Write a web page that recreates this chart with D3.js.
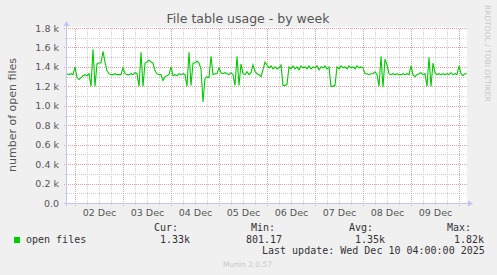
<!DOCTYPE html>
<html>
<head>
<meta charset="utf-8">
<script src="https://cdn.jsdelivr.net/npm/d3@7"></script>
<style>
  body { margin: 0; background: #f0f0f0; }
  svg { display: block; }
</style>
</head>
<body>
<div id="chart"></div>
<script>
// hourly readings of open files, starting Dec 1 20:00
var startTime = "2025-12-01T20:00:00Z";
var openFiles = [
  1330, 1320, 1330, 1320, 1400, 1290, 1270, 1290, 1310, 1320,
  1310, 1330, 1200, 1580, 1200, 1430, 1440, 1440, 1560, 1450,
  1360, 1330, 1320, 1320, 1330, 1320, 1320, 1320, 1390, 1330,
  1320, 1320, 1330, 1320, 1340, 1330, 1200, 1550, 1200, 1440,
  1450, 1470, 1450, 1440, 1360, 1330, 1320, 1320, 1260, 1300,
  1310, 1320, 1400, 1310, 1320, 1310, 1330, 1320, 1330, 1320,
  1200, 1550, 1210, 1440, 1440, 1460, 1440, 1380, 1040, 1280,
  1300, 1290, 1510, 1320, 1330, 1330, 1390, 1340, 1330, 1340,
  1330, 1320, 1340, 1320, 1210, 1510, 1210, 1430, 1330, 1320,
  1350, 1320, 1340, 1420, 1350, 1330, 1320, 1300, 1370, 1450,
  1420, 1390, 1410, 1380, 1400, 1380, 1390, 1420, 1210, 1210,
  1220, 1400, 1380, 1410, 1380, 1400, 1370, 1410, 1390, 1400,
  1380, 1410, 1380, 1400, 1390, 1410, 1370, 1400, 1390, 1410,
  1380, 1400, 1200, 1200, 1210, 1400, 1380, 1410, 1390, 1400,
  1380, 1410, 1390, 1400, 1380, 1410, 1390, 1400, 1390, 1330,
  1330, 1320, 1330, 1330, 1350, 1320, 1200, 1510, 1190, 1480,
  1420, 1330, 1320, 1330, 1320, 1330, 1320, 1320, 1330, 1320,
  1330, 1320, 1410, 1320, 1300, 1320, 1330, 1340, 1320, 1330,
  1200, 1500, 1200, 1440, 1340, 1320, 1330, 1320, 1330, 1320,
  1330, 1320, 1340, 1320, 1330, 1320, 1410, 1330, 1310, 1330,
  1330
];

var dayLabels = ["02 Dec", "03 Dec", "04 Dec", "05 Dec", "06 Dec", "07 Dec", "08 Dec", "09 Dec"];
var yTickValues = [0, 200, 400, 600, 800, 1000, 1200, 1400, 1600, 1800];
var yTickLabels = ["0.0", "0.2 k", "0.4 k", "0.6 k", "0.8 k", "1.0 k", "1.2 k", "1.4 k", "1.6 k", "1.8 k"];

var legendHeads = ["Cur:", "Min:", "Avg:", "Max:"];
var legendValues = ["1.33k", "801.17", "1.35k", "1.82k"];

var width = 497, height = 275;
var plotLeft = 67, plotRight = 467, plotTop = 28, plotBottom = 203;

var svg = d3.select("#chart").append("svg")
    .attr("width", width)
    .attr("height", height)
    .style("font-family", "'DejaVu Sans', sans-serif");

svg.append("rect").attr("width", width).attr("height", height).attr("fill", "#f0f0f0");

var t0 = new Date(startTime);
var hour = 3600 * 1000;
var points = openFiles.map(function (v, i) { return { t: new Date(t0.getTime() + i * hour), v: v }; });

var x = d3.scaleUtc()
    .domain([t0, points[points.length - 1].t])
    .range([plotLeft, plotRight]);

var y = d3.scaleLinear()
    .domain([0, 1800])
    .range([plotBottom, plotTop]);

// white canvas
svg.append("rect")
    .attr("x", plotLeft - 1).attr("y", plotTop - 1)
    .attr("width", plotRight - plotLeft + 1).attr("height", plotBottom - plotTop + 1)
    .attr("fill", "#ffffff");

// grid - minor every 100 / 6 hours, major every 200 / midnight
var minorY = d3.range(100, 1900, 200);
svg.append("g").selectAll("line").data(minorY).enter().append("line")
    .attr("x1", plotLeft - 2).attr("x2", plotRight)
    .attr("y1", function (d) { return Math.round(y(d)) + 0.5; })
    .attr("y2", function (d) { return Math.round(y(d)) + 0.5; })
    .attr("stroke", "#cfcfcf").attr("stroke-dasharray", "1,1");

var dayTimes = dayLabels.map(function (d) { return d3.utcParse("%d %b %Y")(d + " 2025"); });
dayTimes.push(new Date(dayTimes[dayTimes.length - 1].getTime() + 24 * hour));
var minorX = [];
dayTimes.forEach(function (d) {
    [6, 12, 18].forEach(function (h) {
        var tt = new Date(d.getTime() + h * hour);
        if (tt <= x.domain()[1]) minorX.push(tt);
    });
});
svg.append("g").selectAll("line").data(minorX).enter().append("line")
    .attr("x1", function (d) { return Math.round(x(d)) + 0.5; })
    .attr("x2", function (d) { return Math.round(x(d)) + 0.5; })
    .attr("y1", plotBottom + 2).attr("y2", plotTop)
    .attr("stroke", "#cfcfcf").attr("stroke-dasharray", "1,1");

svg.append("g").selectAll("line").data(yTickValues.slice(1)).enter().append("line")
    .attr("x1", plotLeft - 3).attr("x2", plotRight)
    .attr("y1", function (d) { return Math.round(y(d)) + 0.5; })
    .attr("y2", function (d) { return Math.round(y(d)) + 0.5; })
    .attr("stroke", "#e4a0a0").attr("stroke-dasharray", "1,1");

svg.append("g").selectAll("line").data(dayTimes).enter().append("line")
    .attr("x1", function (d) { return Math.round(x(d)) + 0.5; })
    .attr("x2", function (d) { return Math.round(x(d)) + 0.5; })
    .attr("y1", plotBottom + 3).attr("y2", plotTop)
    .attr("stroke", "#e4a0a0").attr("stroke-dasharray", "1,1");

// the series
var line = d3.line()
    .x(function (d) { return x(d.t); })
    .y(function (d) { return y(d.v); });

svg.append("path")
    .datum(points)
    .attr("d", line)
    .attr("fill", "none")
    .attr("stroke", "#00cc00")
    .attr("stroke-width", 1.1);

// axes
var yAxis = d3.axisLeft(y)
    .tickValues(yTickValues)
    .tickFormat(function (d, i) { return yTickLabels[i]; })
    .tickSize(0).tickPadding(8);
var gy = svg.append("g").attr("transform", "translate(" + plotLeft + ",0)").call(yAxis);
gy.select(".domain").remove();
gy.selectAll("text").attr("fill", "#555").style("font-size", "9.5px").style("font-family", "'DejaVu Sans'");

var noons = dayTimes.slice(0, dayLabels.length).map(function (d) { return new Date(d.getTime() + 12 * hour); });
var xAxis = d3.axisBottom(x)
    .tickValues(noons)
    .tickFormat(function (d, i) { return dayLabels[i]; })
    .tickSize(0).tickPadding(6);
var gx = svg.append("g").attr("transform", "translate(0," + plotBottom + ")").call(xAxis);
gx.select(".domain").remove();
gx.selectAll("text").attr("fill", "#555").style("font-size", "9.5px").style("font-family", "'DejaVu Sans'");

// axis lines with arrows
var axisColor = "#c4c4f4";
svg.append("line").attr("x1", plotLeft - 3).attr("x2", plotRight + 2)
    .attr("y1", plotBottom + 0.5).attr("y2", plotBottom + 0.5).attr("stroke", axisColor);
svg.append("path").attr("d", "M468,200.5 L473,203.5 L468,206.5 Z").attr("fill", axisColor);
svg.append("line").attr("x1", plotLeft - 0.5).attr("x2", plotLeft - 0.5)
    .attr("y1", plotBottom + 3).attr("y2", plotTop - 3).attr("stroke", axisColor);
svg.append("path").attr("d", "M63.5,26 L66.5,21 L69.5,26 Z").attr("fill", axisColor);

// titles
svg.append("text")
    .attr("x", 248).attr("y", 23)
    .attr("text-anchor", "middle")
    .attr("fill", "#555")
    .style("font-size", "12.5px")
    .text("File table usage - by week");

svg.append("text")
    .attr("transform", "translate(16,115) rotate(-90)")
    .attr("text-anchor", "middle")
    .attr("fill", "#555")
    .style("font-size", "11px")
    .text("number of open files");

svg.append("text")
    .attr("transform", "translate(485,5) rotate(90)")
    .attr("fill", "#c8c8c8")
    .style("font-size", "7.5px")
    .text("RRDTOOL / TOBI OETIKER");

// legend
var mono = "'DejaVu Sans Mono', monospace";
svg.append("rect").attr("x", 14).attr("y", 237).attr("width", 6).attr("height", 6).attr("fill", "#00cc00");
svg.append("text").attr("x", 26).attr("y", 242.5)
    .style("font-family", mono).style("font-size", "10px").attr("fill", "#333")
    .text("open files");

var headX = [154, 251, 349, 447];
var valX = [160, 246, 355, 454];
svg.selectAll(".lhead").data(legendHeads).enter().append("text")
    .attr("class", "lhead")
    .attr("x", function (d, i) { return headX[i]; })
    .attr("y", 231)
    .style("font-family", mono).style("font-size", "10px").attr("fill", "#333")
    .text(function (d) { return d; });
svg.selectAll(".lval").data(legendValues).enter().append("text")
    .attr("class", "lval")
    .attr("x", function (d, i) { return valX[i]; })
    .attr("y", 242.5)
    .style("font-family", mono).style("font-size", "10px").attr("fill", "#333")
    .text(function (d) { return d; });

svg.append("text").attr("x", 262).attr("y", 254)
    .style("font-family", mono).style("font-size", "10px").attr("fill", "#333")
    .text("Last update: Wed Dec 10 04:00:00 2025");

svg.append("text").attr("x", 223).attr("y", 266.5)
    .attr("fill", "#c8c8c8").style("font-size", "7.5px")
    .text("Munin 2.0.57");
</script>
</body>
</html>
